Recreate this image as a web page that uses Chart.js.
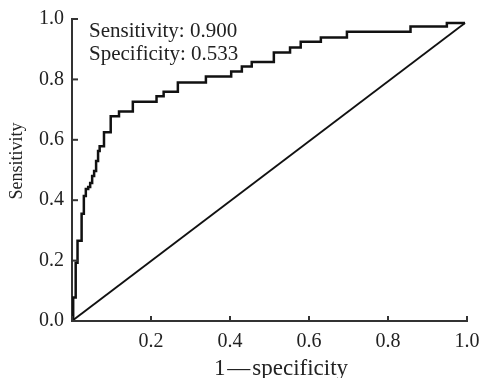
<!DOCTYPE html>
<html>
<head>
<meta charset="utf-8">
<script src="https://cdn.jsdelivr.net/npm/chart.js@4"></script>
<style>
  html, body { margin: 0; padding: 0; background: #fff; }
  #roc { display: block; }
</style>
</head>
<body>
<canvas id="roc" width="482" height="378"></canvas>
<script>
// ROC curve corners (1-specificity, sensitivity)
const fpr = [
  0, 0.003, 0.003, 0.008, 0.008, 0.010, 0.010, 0.014, 0.014, 0.023,
  0.023, 0.025, 0.025, 0.030, 0.030, 0.035, 0.035, 0.041, 0.041, 0.046,
  0.046, 0.051, 0.051, 0.056, 0.056, 0.061, 0.061, 0.066, 0.066, 0.070,
  0.070, 0.081, 0.081, 0.098, 0.098, 0.119, 0.119, 0.154, 0.154, 0.214,
  0.214, 0.232, 0.232, 0.268, 0.268, 0.339, 0.339, 0.403, 0.403, 0.430,
  0.430, 0.455, 0.455, 0.511, 0.511, 0.552, 0.552, 0.579, 0.579, 0.630,
  0.630, 0.696, 0.696, 0.857, 0.857, 0.949, 0.949, 0.995
];
const tpr = [
  0, 0, 0.078, 0.078, 0.118, 0.118, 0.193, 0.193, 0.266, 0.266,
  0.315, 0.315, 0.355, 0.355, 0.414, 0.414, 0.437, 0.437, 0.444, 0.444,
  0.457, 0.457, 0.480, 0.480, 0.497, 0.497, 0.530, 0.530, 0.563, 0.563,
  0.579, 0.579, 0.625, 0.625, 0.678, 0.678, 0.694, 0.694, 0.726, 0.726,
  0.744, 0.744, 0.759, 0.759, 0.790, 0.790, 0.810, 0.810, 0.826, 0.826,
  0.843, 0.843, 0.858, 0.858, 0.889, 0.889, 0.906, 0.906, 0.925, 0.925,
  0.939, 0.939, 0.958, 0.958, 0.975, 0.975, 0.987, 0.987
];

// reference line
const diagX = [0, 0.995];
const diagY = [0, 0.987];

const tickValues = [0, 0.2, 0.4, 0.6, 0.8, 1.0];
const notes = ['Sensitivity: 0.900', 'Specificity: 0.533'];

const serif = '"Liberation Serif", "Times New Roman", serif';
const ink = '#222';

const curvePts = fpr.map((v, i) => ({ x: v, y: tpr[i] }));
const diagPts = diagX.map((v, i) => ({ x: v, y: diagY[i] }));

// ticks in this figure point into the plot
const innerTicks = {
  id: 'innerTicks',
  afterDraw(chart) {
    const c = chart.ctx;
    const xs = chart.scales.x, ys = chart.scales.y;
    c.save();
    c.strokeStyle = '#333';
    c.lineWidth = 2;
    tickValues.forEach(v => {
      const px = xs.getPixelForValue(v);
      c.beginPath();
      c.moveTo(px, ys.bottom);
      c.lineTo(px, ys.bottom - 5);
      c.stroke();
      const py = ys.getPixelForValue(v);
      c.beginPath();
      c.moveTo(xs.left, py);
      c.lineTo(xs.left + 6, py);
      c.stroke();
    });
    // notes in the top left corner
    c.fillStyle = ink;
    c.font = '21px ' + serif;
    c.textBaseline = 'alphabetic';
    c.textAlign = 'left';
    notes.forEach((t, i) => {
      c.fillText(t, chart.chartArea.left + 17, chart.chartArea.top + 18 + i * 22.5);
    });
    c.restore();
  }
};

new Chart(document.getElementById('roc'), {
  type: 'scatter',
  data: {
    datasets: [
      {
        data: curvePts,
        showLine: true,
        borderColor: '#111',
        borderWidth: 2.5,
        pointRadius: 0,
        tension: 0
      },
      {
        data: diagPts,
        showLine: true,
        borderColor: '#111',
        borderWidth: 1.8,
        pointRadius: 0,
        tension: 0
      }
    ]
  },
  options: {
    responsive: false,
    animation: false,
    layout: { padding: { top: 19, right: 15, left: 0, bottom: 0 } },
    plugins: {
      legend: { display: false },
      tooltip: { enabled: false }
    },
    scales: {
      x: {
        type: 'linear',
        min: 0,
        max: 1,
        afterFit(s) { s.height = 57; s.paddingLeft = 0; s.paddingRight = 0; },
        grid: { display: false, drawTicks: false },
        border: { display: true, color: '#333', width: 2 },
        ticks: {
          stepSize: 0.2,
          padding: 9,
          color: ink,
          font: { family: serif, size: 20 },
          callback: v => (v === 0 ? '' : v.toFixed(1))
        },
        title: {
          display: true,
          text: '\u20031\u200a\u2014\u200aspecificity',
          color: ink,
          font: { family: serif, size: 23 },
          padding: { top: 0, bottom: -5 }
        }
      },
      y: {
        type: 'linear',
        min: 0,
        max: 1,
        afterFit(s) { s.width = 72; s.paddingTop = 0; s.paddingBottom = 0; },
        grid: { display: false, drawTicks: false },
        border: { display: true, color: '#333', width: 2 },
        ticks: {
          stepSize: 0.2,
          padding: 8,
          color: ink,
          font: { family: serif, size: 20 },
          callback: v => v.toFixed(1)
        },
        title: {
          display: true,
          text: '\u2003Sensitivity',
          color: ink,
          font: { family: serif, size: 18 },
          padding: { top: 6, bottom: 0 }
        }
      }
    }
  },
  plugins: [innerTicks]
});
</script>
</body>
</html>
